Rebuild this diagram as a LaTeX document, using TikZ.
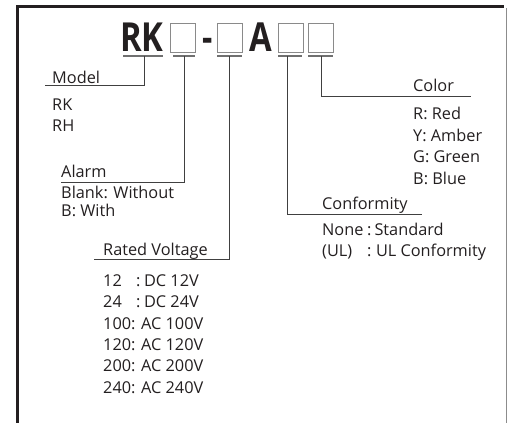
\documentclass[tikz,border=0pt]{standalone}
\usepackage{fontspec}
\setmainfont{Open Sans}
\definecolor{ink}{HTML}{231F20}
\definecolor{conncol}{HTML}{404040}
\definecolor{ugray}{HTML}{707070}
\definecolor{bgray}{HTML}{8A8A8A}
\begin{document}
\begin{tikzpicture}[x=1pt,y=-1pt,
  lbl/.style={anchor=base west,inner sep=0,font=\fontsize{16.3}{19}\selectfont,text=ink},
  ttl/.style={anchor=base,inner sep=0,font=\fontsize{40}{40}\selectfont\bfseries,text=ink},
  cell/.style={draw=bgray,line width=1pt,minimum width=25pt,minimum height=29pt,inner sep=0},
  uline/.style={draw=ugray,line width=1.2pt},
  connector/.style={draw=conncol,line width=1pt},
  framebar/.style={draw=ink,line width=3pt},
  frameright/.style={draw=black!45,line width=0.8pt}]
\useasboundingbox (0,0) rectangle (507,423);
% frame
\draw[framebar] (17.5,423) -- (17.5,6.5) -- (504,6.5);
\draw[frameright] (506.5,8) -- (506.5,423);
% title
\node[ttl] (rk) at (142,51) {\scalebox{0.82}[1]{RK}};
\node[cell] (b1) at (182.5,37.5) {};
\node[ttl] (dash) at (207.5,51) {\scalebox{0.8}[1]{-}};
\node[cell] (b2) at (229.5,37.5) {};
\node[ttl] (aa) at (261,51) {\scalebox{0.82}[1]{A}};
\node[cell] (b3) at (290.5,37.5) {};
\node[cell] (b4) at (320.5,37.5) {};
% underlines
\draw[uline] (123,56) -- (163,56);
\draw[uline] (173,56) -- (195,56);
\draw[uline] (217,56) -- (242,56);
\draw[uline] (278,56) -- (302,56);
\draw[uline] (308,56) -- (333,56);
\coordinate (t0) at (144,56);
\coordinate (t1) at (184,56);
\coordinate (t2) at (229,56);
\coordinate (t3) at (287,56);
\coordinate (t4) at (321,56);
\coordinate (mdl) at (45,85.5);
\coordinate (alm) at (61,182);
\coordinate (vol) at (94,259.3);
\coordinate (cnf) at (422,214.3);
\coordinate (col) at (471,96);
% connectors
\draw[connector] (t0) |- (mdl);
\draw[connector] (t1) |- (alm);
\draw[connector] (t2) |- (vol);
\draw[connector] (t3) |- (cnf);
\draw[connector] (t4) |- (col);
% Model
\node[lbl] (model) at (52,83) {Model};
\node[lbl] (mrk) at (52,110) {RK};
\node[lbl] (mrh) at (52,131.5) {RH};
% Alarm
\node[lbl] (alarm) at (61,177.7) {Alarm};
\node[lbl] (ablank) at (61,198.5) {Blank: Without};
\node[lbl] (awith) at (61,216.5) {B: With};
% Rated voltage
\node[lbl] (rated) at (103,255) {Rated Voltage};
\node[lbl] (v12) at (103,286.7) {\makebox[33pt][l]{12}:\hspace{3.5pt}DC 12V};
\node[lbl] (v24) at (103,307.5) {\makebox[33pt][l]{24}:\hspace{3.5pt}DC 24V};
\node[lbl] (v100) at (103,329) {100: AC 100V};
\node[lbl] (v120) at (103,350.5) {120: AC 120V};
\node[lbl] (v200) at (103,371.5) {200: AC 200V};
\node[lbl] (v240) at (103,393) {240: AC 240V};
% Conformity
\node[lbl] (conf) at (322,209.5) {Conformity};
\node[lbl] (cnone) at (322,235.7) {\makebox[45pt][l]{None}:\hspace{3pt}Standard};
\node[lbl] (cul) at (322,256.7) {\makebox[45pt][l]{(UL)}:\hspace{4.5pt}UL Conformity};
% Color
\node[lbl] (color) at (413,91.7) {Color};
\node[lbl] (cr) at (413,119) {R: Red};
\node[lbl] (cy) at (413,141.3) {Y: Amber};
\node[lbl] (cg) at (413,162.7) {G: Green};
\node[lbl] (cb) at (413,184.3) {B: Blue};
\end{tikzpicture}
\end{document}
